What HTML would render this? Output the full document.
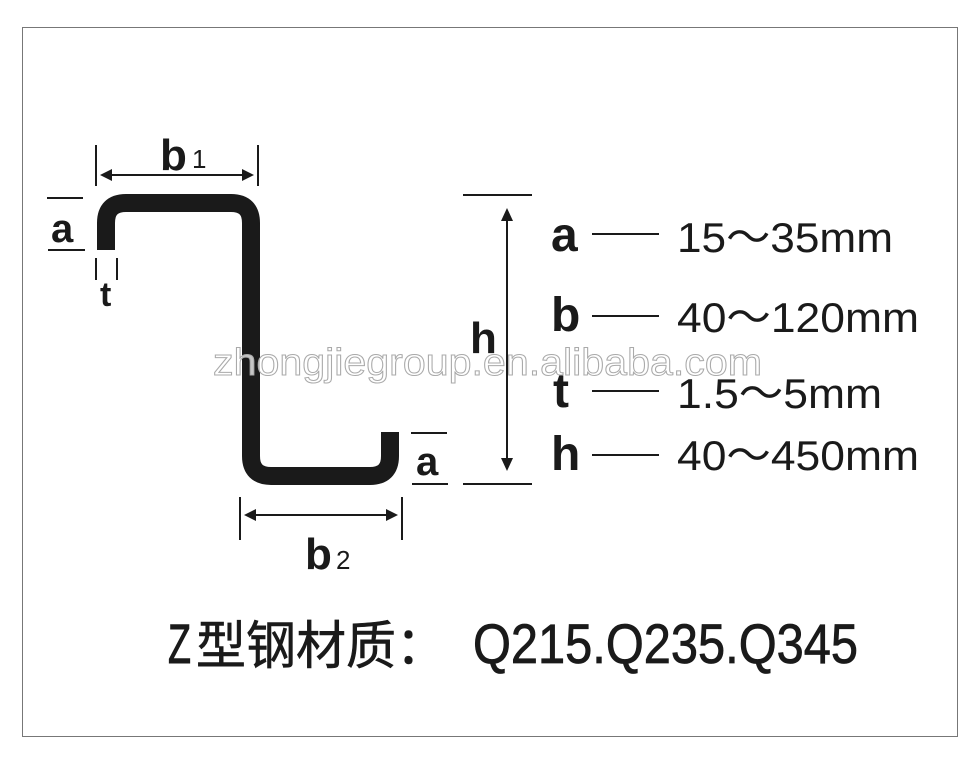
<!DOCTYPE html>
<html><head><meta charset="utf-8"><style>
html,body{margin:0;padding:0;background:#fff;}
svg{display:block;}
</style></head><body>
<svg width="977" height="759" viewBox="0 0 977 759" xmlns="http://www.w3.org/2000/svg">
<rect x="0" y="0" width="977" height="759" fill="#fff"/>
<rect x="22.5" y="27.5" width="935" height="709" fill="none" stroke="#777" stroke-width="1"/>
<!-- Z section -->
<path d="M106 250 V223 Q106 203 126 203 H231 Q251 203 251 223 V456 Q251 476 271 476 H370 Q390 476 390 456 V432" fill="none" stroke="#1a1a1a" stroke-width="18"/>
<g stroke="#1a1a1a" stroke-width="2" fill="none">
<line x1="96" y1="145" x2="96" y2="186"/><line x1="258" y1="145" x2="258" y2="186"/>
<line x1="102" y1="175" x2="252" y2="175"/>
<line x1="47" y1="198" x2="83" y2="198"/><line x1="48" y1="250" x2="85" y2="250"/>
<line x1="96" y1="258" x2="96" y2="280"/><line x1="117" y1="258" x2="117" y2="280"/>
<line x1="240" y1="497" x2="240" y2="540"/><line x1="402" y1="497" x2="402" y2="540"/>
<line x1="246" y1="515" x2="396" y2="515"/>
<line x1="411" y1="433" x2="447" y2="433"/><line x1="412" y1="484" x2="448" y2="484"/>
<line x1="463" y1="195" x2="532" y2="195"/><line x1="463" y1="484" x2="532" y2="484"/>
<line x1="507" y1="214" x2="507" y2="466"/>
<line x1="592" y1="234" x2="659" y2="234"/><line x1="592" y1="316" x2="659" y2="316"/>
<line x1="592" y1="391" x2="659" y2="391"/><line x1="592" y1="455" x2="659" y2="455"/>
</g>
<g fill="#1a1a1a">
<polygon points="100,175 112,169 112,181"/><polygon points="254,175 242,169 242,181"/>
<polygon points="244,515 256,509 256,521"/><polygon points="398,515 386,509 386,521"/>
<polygon points="507,208 501,221 513,221"/><polygon points="507,471 501,458 513,458"/>
</g>
<g font-family="Liberation Sans, sans-serif" fill="#1a1a1a" font-weight="bold">
<text x="160" y="170" font-size="44">b</text><text x="192" y="168" font-size="26" font-weight="normal">1</text>
<text x="51" y="242" font-size="40">a</text>
<text x="100" y="306" font-size="34">t</text>
<text x="305" y="569" font-size="44">b</text><text x="336" y="569" font-size="26" font-weight="normal">2</text>
<text x="416" y="475" font-size="40">a</text>
<text x="470" y="353" font-size="44">h</text>
<text x="551" y="251" font-size="48">a</text>
<text x="551" y="331" font-size="48">b</text>
<text x="553" y="407" font-size="48">t</text>
<text x="551" y="470" font-size="48">h</text>
</g>
<g font-family="Liberation Sans, sans-serif" fill="#1a1a1a" font-size="42">
<text x="677" y="252" textLength="216" lengthAdjust="spacingAndGlyphs">15～35mm</text>
<text x="677" y="332" textLength="242" lengthAdjust="spacingAndGlyphs">40～120mm</text>
<text x="677" y="408" textLength="205" lengthAdjust="spacingAndGlyphs">1.5～5mm</text>
<text x="677" y="470" textLength="242" lengthAdjust="spacingAndGlyphs">40～450mm</text>
</g>
<text x="213" y="375" font-family="Liberation Sans, sans-serif" font-size="38" fill="#fff" fill-opacity="0.75" stroke="#aaa" stroke-width="1" textLength="549" lengthAdjust="spacingAndGlyphs">zhongjiegroup.en.alibaba.com</text>
<g fill="#1a1a1a">
<text x="168" y="663" font-family="Liberation Sans, sans-serif" font-size="56" stroke="#1a1a1a" stroke-width="1" textLength="23" lengthAdjust="spacingAndGlyphs">Z</text>
<text x="196" y="664" font-family="Liberation Sans, 'Noto Sans CJK SC', sans-serif" font-size="52" stroke="#1a1a1a" stroke-width="0.6" textLength="250" lengthAdjust="spacingAndGlyphs">型钢材质：</text>
<text x="473" y="663" font-family="Liberation Sans, sans-serif" font-size="56" stroke="#1a1a1a" stroke-width="0.8" textLength="385" lengthAdjust="spacingAndGlyphs">Q215.Q235.Q345</text>
</g>
</svg>
</body></html>
